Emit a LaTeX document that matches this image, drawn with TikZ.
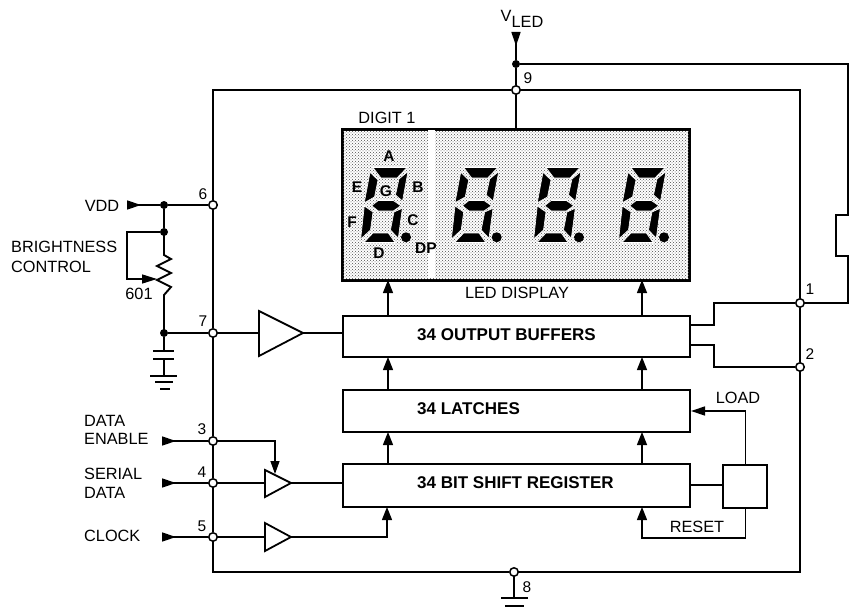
\documentclass[tikz,border=0pt]{standalone}
\usepackage{fontspec}
\setmainfont{Liberation Sans}
\usetikzlibrary{arrows.meta,patterns}
\tikzset{
  wire/.style={line width=1.4pt,line join=miter},
  heavy/.style={line width=2.5pt},
  pinnode/.style={circle,draw,line width=1.5pt,fill=white,minimum size=8.5pt,inner sep=0pt},
  dotnode/.style={circle,fill=black,minimum size=8pt,inner sep=0pt},
  blockbox/.style={draw,line width=2pt,inner sep=0pt,anchor=north west},
  amp/.style={line width=1.8pt,line join=miter,fill=white},
  up/.style={-{Triangle[length=13pt,width=10pt]}},
  inarrow/.style={{Triangle[reversed,length=14pt,width=9pt]}-},
  lbl/.style={font=\fontsize{16.3}{18}\selectfont,inner sep=0pt},
  num/.style={font=\fontsize{15.5}{18}\selectfont,inner sep=0pt},
  blk/.style={font=\fontsize{17}{18}\selectfont\bfseries,inner sep=0pt,anchor=west},
  seglbl/.style={font=\fontsize{15.5}{17}\selectfont\bfseries,inner sep=0pt},
  seg/.style={fill=black,draw=white,line width=0.6pt},
}
\begin{document}
\begin{tikzpicture}[x=1pt,y=-1pt]
\useasboundingbox (0,0) rectangle (849,610);
% pins
\node[pinnode] (p9) at (516,90) {};
\node[pinnode] (p6) at (213,205) {};
\node[pinnode] (p7) at (213,333) {};
\node[pinnode] (p3) at (213,441) {};
\node[pinnode] (p4) at (213,483) {};
\node[pinnode] (p5) at (213,537) {};
\node[pinnode] (p8) at (514,572) {};
\node[pinnode] (p1) at (800,303) {};
\node[pinnode] (p2) at (800,367) {};
\coordinate (tl) at (213,90); \coordinate (tr) at (800,90);
\coordinate (br) at (800,572); \coordinate (bl) at (213,572);
\draw[heavy] (p6) -- (tl) -- (p9) -- (tr) -- (p1) -- (p2) -- (br) -- (p8) -- (bl) -- (p5) -- (p4) -- (p3) -- (p7) -- (p6);
% display
\node[blockbox,postaction={pattern=crosshatch dots,pattern color=black!70},minimum width=346pt,minimum height=150pt] (display) at (342,129) {};
\fill[white] (428,130) rectangle (435,278);
\draw[line width=2pt] (display.south west) rectangle (display.north east);
% digits
\foreach \dx in {0,90.7,173,258}{
\begin{scope}[shift={(\dx,0)}]
\path[seg] (373,167.5) -- (407,167.5) -- (397,178) -- (381,178) -- cycle;
\path[seg] (408,171.5) -- (399,179) -- (395.5,195) -- (402.5,201) -- cycle;
\path[seg] (370,172.3) -- (378,180) -- (374.5,197) -- (364.3,202.7) -- cycle;
\path[seg] (371.7,205.7) -- (378.3,200.5) -- (393.3,200.5) -- (400.7,205.7) -- (393.3,211) -- (378.3,211) -- cycle;
\path[seg] (364.3,206) -- (373,212) -- (370.5,230) -- (360.7,239) -- cycle;
\path[seg] (402.3,208.3) -- (394,212) -- (390.5,230) -- (398.3,238.3) -- cycle;
\path[seg] (364,242.5) -- (373,233) -- (388.3,233) -- (395,242.5) -- cycle;
\fill (406,237.3) circle (5);
\end{scope}}
\node[seglbl] (sa) at (389,156) {A};
\node[seglbl] (se) at (357,187) {E};
\node[seglbl] (sg) at (386,191) {G};
\node[seglbl] (sb) at (418,187) {B};
\node[seglbl] (sf) at (352,222) {F};
\node[seglbl] (sc) at (413,220) {C};
\node[seglbl] (sd) at (379,253) {D};
\node[seglbl] (sdp) at (426,248) {DP};
\node[lbl] (digit) at (387,118) {DIGIT 1};
\node[lbl] (leddisp) at (517,293) {LED DISPLAY};
% blocks
\node[blockbox,minimum width=347pt,minimum height=41pt] (obuf) at (342,315) {};
\node[blockbox,minimum width=347pt,minimum height=42pt] (latch) at (342,389) {};
\node[blockbox,minimum width=347pt,minimum height=43pt] (shift) at (342,463) {};
\node[blockbox,line width=2.4pt,minimum width=44pt,minimum height=43pt] (ctl) at (722,464) {};
\node[blk] (tobuf) at (417,335) {34 OUTPUT BUFFERS};
\node[blk] (tlatch) at (417,409) {34 LATCHES};
\node[blk] (tshift) at (417,483) {34 BIT SHIFT REGISTER};
% vertical arrows between blocks
\foreach \x in {388,642}{
  \draw[wire,up] (\x,315) -- (\x,280);
  \draw[wire,up] (\x,389) -- (\x,357);
  \draw[wire,up] (\x,463) -- (\x,432);
}
% VLED
\node[dotnode] (vleddot) at (516,64) {};
\coordinate (vledin) at (516,32);
\node[inner sep=0pt,anchor=base] (vled) at (522,22) {\fontsize{16.3}{18}\selectfont V\raisebox{-6pt}{LED}};
\draw[wire,inarrow] (vledin) -- (vleddot);
\draw[wire] (vleddot) -- (p9);
\draw[wire] (p9) -- (p9 |- display.north);
\coordinate (rtop) at (848,215); \coordinate (rbot) at (848,256);
\draw[wire] (vleddot) -| (rtop);
\draw[wire] (850,215) -- (836,215) -- (836,256) -- (850,256);
\draw[wire] (rbot) |- (p1);
% output buffer side
\draw[wire] (689,325) -- (714,325) |- (p1);
\draw[wire] (689,345) -- (714,345) |- (p2);
% pin 6 / VDD
\node[lbl] (vdd) at (102,206) {VDD};
\node[dotnode] (d1) at (164,205) {};
\node[dotnode] (d2) at (164,232) {};
\node[dotnode] (d3) at (164,333) {};
\coordinate (vddin) at (127,205);
\draw[wire,inarrow] (vddin) -- (d1);
\draw[wire] (d1) -- (p6);
\draw[wire] (d1) -- (d2);
\draw[line width=1.9pt,line join=miter] (d2.center) -- (164,255) -- (171,259) -- (157,266) -- (171,273) -- (157,280) -- (171,287) -- (164,295) -- (d3.center);
\coordinate (wiper) at (157,279);
\draw[wire,-{Triangle[length=15pt,width=9pt]}] (d2) -- (127,232) -- (127,279) -- (wiper);
\draw[wire] (d3) -- (p7);
\node[lbl,anchor=west] (bc1) at (11,247) {BRIGHTNESS};
\node[lbl,anchor=west] (bc2) at (11,267) {CONTROL};
\node[lbl] (r601) at (139,294) {601};
% capacitor and ground
\coordinate (c1) at (164,351); \coordinate (c2) at (164,359); \coordinate (g1) at (164,376);
\draw[wire] (d3) -- (c1);
\draw[line width=2pt] (153,351) -- (174,351);
\draw[line width=2pt] (153,359) -- (174,359);
\draw[wire] (c2) -- (g1);
\draw[line width=2.2pt] (150,376) -- (177,376);
\draw[line width=2pt] (155,382) -- (173,382);
\draw[line width=2pt] (160,389) -- (170,389);
% output amp
\coordinate (oa) at (259,333); \coordinate (ob) at (303,333);
\draw[amp] (259,311) -- (ob) -- (259,356) -- cycle;
\draw[wire] (p7) -- (oa);
\draw[wire] (ob) -- (ob -| obuf.west);
% serial amp
\coordinate (sa1) at (265,483); \coordinate (sb1) at (291,483);
\draw[amp] (265,470) -- (sb1) -- (265,497) -- cycle;
\draw[wire] (p4) -- (sa1);
\draw[wire] (sb1) -- (sb1 -| shift.west);
\draw[wire,-{Triangle[length=13pt,width=9pt]}] (p3) -| (275,474);
% clock amp
\coordinate (ca) at (265,537); \coordinate (cb) at (291,537);
\draw[amp] (265,523) -- (cb) -- (265,551) -- cycle;
\draw[wire] (p5) -- (ca);
\draw[wire,up] (cb) -| (387,507);
% input arrows
\coordinate (i3) at (162,441); \coordinate (i4) at (162,483); \coordinate (i5) at (162,537);
\draw[wire,inarrow] (i3) -- (p3);
\draw[wire,inarrow] (i4) -- (p4);
\draw[wire,inarrow] (i5) -- (p5);
\node[lbl,anchor=west] (t31) at (84,421) {DATA};
\node[lbl,anchor=west] (t32) at (84,439) {ENABLE};
\node[lbl,anchor=west] (t41) at (84,474) {SERIAL};
\node[lbl,anchor=west] (t42) at (84,493) {DATA};
\node[lbl,anchor=west] (t5) at (84,536) {CLOCK};
% control block
\coordinate (sright) at (689,485);
\draw[wire] (sright) -- (sright -| ctl.west);
\draw[wire,-{Triangle[length=14pt,width=9pt]}] (ctl.north) |- (latch.east);
\draw[wire,up] (ctl.south) |- (642,538) -- (642,507);
\node[lbl] (tload) at (738,398) {LOAD};
\node[lbl] (treset) at (697,527) {RESET};
% ground pin 8
\coordinate (g8) at (514,598);
\draw[wire] (p8) -- (g8);
\draw[line width=2.2pt] (501,598) -- (528,598);
\draw[line width=2.2pt] (505,606) -- (524,606);
% pin numbers
\node[num] (n6) at (203,194) {6};
\node[num] (n7) at (203,321) {7};
\node[num] (n3) at (202,429) {3};
\node[num] (n4) at (202,472) {4};
\node[num] (n5) at (202,526) {5};
\node[num] (n9) at (528,78) {9};
\node[num] (n1) at (810,289) {1};
\node[num] (n2) at (810,354) {2};
\node[num] (n8) at (527,587) {8};
\end{tikzpicture}
\end{document}
